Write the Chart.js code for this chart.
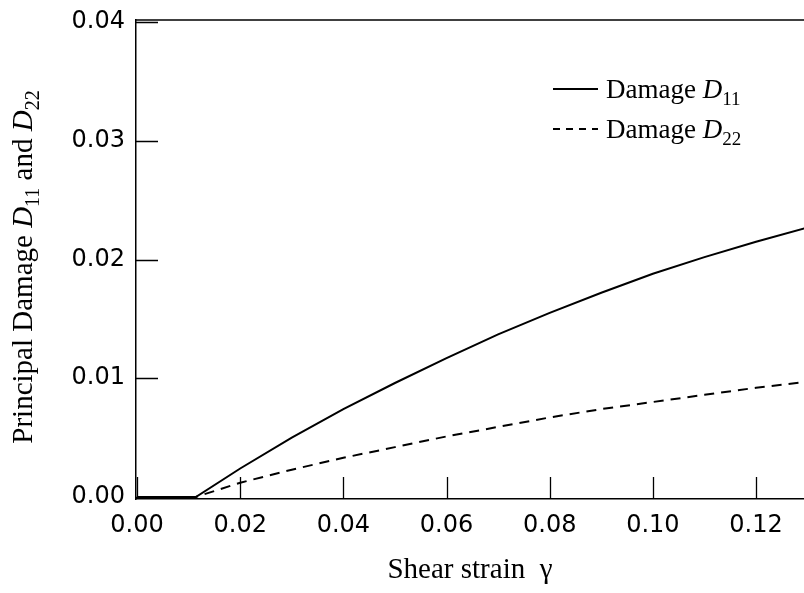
<!DOCTYPE html>
<html>
<head>
<meta charset="utf-8">
<script src="https://cdn.jsdelivr.net/npm/chart.js@4/dist/chart.umd.min.js"></script>
<style>
  html, body { margin: 0; padding: 0; background: #fff; }
  canvas { display: block; }
</style>
</head>
<body>
<canvas id="damageChart" width="804" height="593"></canvas>
<script>
// values
var gamma = [0, 0.0114, 0.02, 0.03, 0.04, 0.05, 0.06, 0.07, 0.08, 0.09, 0.10, 0.11, 0.12, 0.13];
var damageD11 = [0, 0, 0.0024, 0.0050, 0.0074, 0.0096, 0.0117, 0.0137, 0.0155, 0.0172, 0.0188, 0.0202, 0.0215, 0.0227];
var damageD22 = [0, 0, 0.0012, 0.0023, 0.0033, 0.0042, 0.0051, 0.0059, 0.0067, 0.0074, 0.0080, 0.0086, 0.0092, 0.0097];
var xTicks = [0, 0.02, 0.04, 0.06, 0.08, 0.10, 0.12];
var yTicks = [0, 0.01, 0.02, 0.03, 0.04];
var seriesNames = ['11', '22'];

var SERIF = '"Liberation Serif", "Times New Roman", serif';
var SANS = '"DejaVu Sans", "Liberation Sans", sans-serif';

function toPoints(xs, ys){
    return xs.map(function(v, i){ return {x: v, y: ys[i]}; });
}

// draws "prefix D_sub" with italic D and a lowered subscript, returns end x
function drawDamageText(ctx, prefix, sub, x, y, size){
    ctx.font = size + 'px ' + SERIF;
    ctx.fillText(prefix, x, y);
    x += ctx.measureText(prefix).width;
    ctx.font = 'italic ' + size + 'px ' + SERIF;
    ctx.fillText('D', x, y);
    x += ctx.measureText('D').width;
    var s = Math.round(size * 0.7);
    ctx.font = s + 'px ' + SERIF;
    ctx.fillText(sub, x, y + size * 0.25);
    return x + ctx.measureText(sub).width;
}

var framePlugin = {
    id: 'frame',
    afterDraw: function(chart){
        var ctx = chart.ctx, a = chart.chartArea;
        var xs = chart.scales.x, ys = chart.scales.y;
        ctx.save();
        ctx.strokeStyle = '#000';
        ctx.fillStyle = '#000';

        // top border
        ctx.lineWidth = 1.5;
        ctx.beginPath();
        ctx.moveTo(a.left, a.top);
        ctx.lineTo(a.right, a.top);
        ctx.stroke();

        // inward tick marks
        ctx.lineWidth = 1.3;
        ctx.beginPath();
        xs.ticks.forEach(function(t){
            var px = Math.round(xs.getPixelForValue(t.value)) + 0.5;
            ctx.moveTo(px, a.bottom);
            ctx.lineTo(px, a.bottom - 22);
        });
        ys.ticks.forEach(function(t){
            var py = Math.round(ys.getPixelForValue(t.value)) + 0.5;
            ctx.moveTo(a.left, py);
            ctx.lineTo(a.left + 22, py);
        });
        ctx.stroke();

        // y axis title, rotated, with subscripts
        var size = 29;
        ctx.save();
        ctx.translate(32, 267);
        ctx.rotate(-Math.PI / 2);
        ctx.textBaseline = 'alphabetic';
        ctx.textAlign = 'left';
        ctx.font = size + 'px ' + SERIF;
        var w = ctx.measureText('Principal Damage ').width + ctx.measureText(' and ').width;
        ctx.font = 'italic ' + size + 'px ' + SERIF;
        w += 2 * ctx.measureText('D').width;
        ctx.font = Math.round(size * 0.7) + 'px ' + SERIF;
        w += ctx.measureText('11').width + ctx.measureText('22').width;
        var x0 = -w / 2;
        x0 = drawDamageText(ctx, 'Principal Damage ', seriesNames[0], x0, 0, size);
        drawDamageText(ctx, ' and ', seriesNames[1], x0, 0, size);
        ctx.restore();

        // legend
        var rows = [{y: 89, dash: []}, {y: 129, dash: [7, 6]}];
        rows.forEach(function(r, i){
            ctx.setLineDash(r.dash);
            ctx.lineWidth = 1.8;
            ctx.beginPath();
            ctx.moveTo(553, r.y);
            ctx.lineTo(598, r.y);
            ctx.stroke();
            ctx.setLineDash([]);
            ctx.textBaseline = 'alphabetic';
            drawDamageText(ctx, 'Damage ', seriesNames[i], 606, r.y + 9, 27);
        });
        ctx.restore();
    }
};

var ctx = document.getElementById('damageChart');
new Chart(ctx, {
    type: 'line',
    data: {
        datasets: [{
            label: 'Damage D11',
            data: toPoints(gamma, damageD11),
            borderColor: '#000',
            borderWidth: 2,
            pointRadius: 0,
            fill: false,
            tension: 0
        }, {
            label: 'Damage D22',
            data: toPoints(gamma, damageD22),
            borderColor: '#000',
            borderWidth: 2,
            borderDash: [10, 7],
            pointRadius: 0,
            fill: false,
            tension: 0
        }]
    },
    options: {
        responsive: false,
        animation: false,
        layout: {padding: {top: 20, right: 0, bottom: 0, left: 0}},
        plugins: {legend: {display: false}, tooltip: {enabled: false}},
        scales: {
            x: {
                type: 'linear',
                min: -0.0002,
                max: 0.1293,
                afterBuildTicks: function(s){ s.ticks = xTicks.map(function(v){ return {value: v}; }); },
                afterFit: function(s){ s.height = 94; s.paddingLeft = 0; s.paddingRight = 0; },
                grid: {display: false, drawTicks: false},
                border: {display: true, color: '#000', width: 1.5},
                ticks: {
                    color: '#000',
                    padding: 12,
                    font: {family: SANS, size: 24},
                    maxRotation: 0,
                    callback: function(v){ return v.toFixed(2); }
                },
                title: {
                    display: true,
                    text: 'Shear strain  γ',
                    color: '#000',
                    font: {family: SERIF, size: 29},
                    padding: {top: 0, bottom: 5}
                }
            },
            y: {
                type: 'linear',
                min: -0.00017,
                max: 0.04017,
                afterBuildTicks: function(s){ s.ticks = yTicks.map(function(v){ return {value: v}; }); },
                afterFit: function(s){ s.width = 136; s.paddingTop = 0; s.paddingBottom = 0; },
                grid: {display: false, drawTicks: false},
                border: {display: true, color: '#000', width: 1.5},
                ticks: {
                    color: '#000',
                    padding: 11,
                    font: {family: SANS, size: 24},
                    callback: function(v){ return v.toFixed(2); }
                }
            }
        }
    },
    plugins: [framePlugin]
});
</script>
</body>
</html>
